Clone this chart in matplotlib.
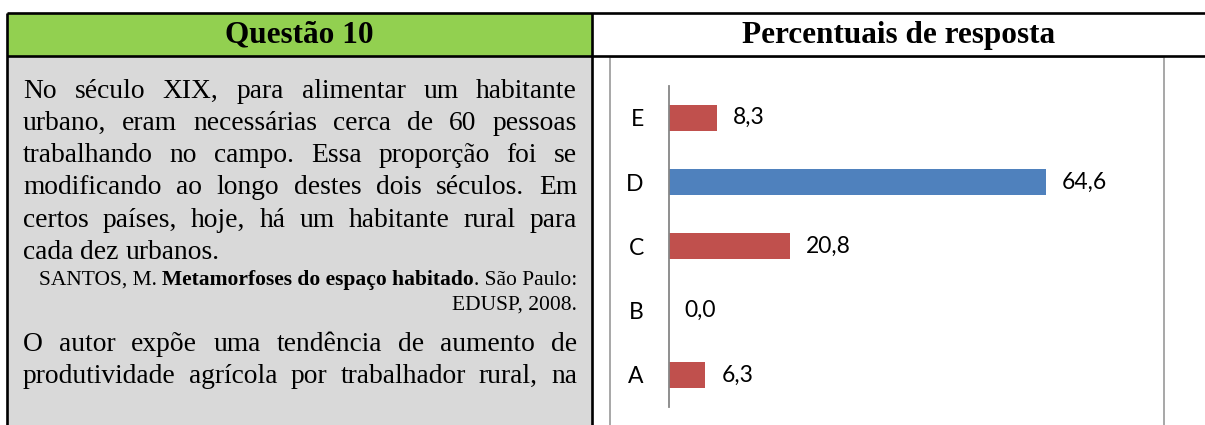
import matplotlib
matplotlib.use("Agg")
import matplotlib.pyplot as plt
from matplotlib.patches import Rectangle

# === Data ===
alternativas = ["A", "B", "C", "D", "E"]
percentuais = [6.3, 0.0, 20.8, 64.6, 8.3]
gabarito = "D"

titulo_questao = "Questão 10"
titulo_grafico = "Percentuais de resposta"

paragrafo1 = [
    "No século XIX, para alimentar um habitante",
    "urbano, eram necessárias cerca de 60 pessoas",
    "trabalhando no campo. Essa proporção foi se",
    "modificando ao longo destes dois séculos. Em",
    "certos países, hoje, há um habitante rural para",
    "cada dez urbanos.",
]
fonte_autor = "SANTOS, M."
fonte_titulo = "Metamorfoses do espaço habitado"
fonte_resto = ". São Paulo:"
fonte_linha2 = "EDUSP, 2008."
paragrafo2 = [
    "O autor expõe uma tendência de aumento de",
    "produtividade agrícola por trabalhador rural, na",
]

# === Figure setup (pixel coordinates via an overlay axes) ===
W, H = 1205, 425
fig = plt.figure(figsize=(W / 100, H / 100), dpi=100)
fig.patch.set_facecolor("white")
renderer = fig.canvas.get_renderer()

ax0 = fig.add_axes([0, 0, 1, 1])
ax0.set_xlim(0, W)
ax0.set_ylim(H, 0)
ax0.axis("off")

serif = "Liberation Serif"
body_size = 19.8
cite_size = 15.5
label_size = 16.5

x_left, x_sep = 6.5, 592
y_top, y_head = 13, 55.5

# cells
ax0.add_patch(Rectangle((x_left, y_head), x_sep - x_left, H, color="#D9D9D9", lw=0))
ax0.add_patch(Rectangle((x_left, y_top), x_sep - x_left, y_head - y_top, color="#92D050", lw=0))
ax0.add_patch(Rectangle((610, 56.7), 1164 - 610, 400, facecolor="white",
                        edgecolor="#A0A0A0", lw=1.3))

# table borders
lw_border = 1.9
ax0.plot([x_left, W], [y_top, y_top], color="black", lw=lw_border, solid_capstyle="butt")
ax0.plot([x_left, W], [y_head, y_head], color="black", lw=lw_border, solid_capstyle="butt")
ax0.plot([x_left, x_left], [y_top, H], color="black", lw=lw_border, solid_capstyle="butt")
ax0.plot([x_sep, x_sep], [y_top, H], color="black", lw=lw_border, solid_capstyle="butt")

# headers
ax0.text((x_left + x_sep) / 2, 42.5, titulo_questao, ha="center", va="baseline",
         fontsize=22.5, fontweight="bold", family=serif)
ax0.text((x_sep + W) / 2, 42.5, titulo_grafico, ha="center", va="baseline",
         fontsize=22.5, fontweight="bold", family=serif)


def text_width(s, size, weight="normal"):
    t = ax0.text(0, 0, s, fontsize=size, fontweight=weight, family=serif)
    w = t.get_window_extent(renderer).width
    t.remove()
    return w


def space_width(size, weight="normal"):
    return text_width("n n", size, weight) - text_width("nn", size, weight)


def justify(line, y, x0, x1, size, last=False):
    words = line.split()
    widths = [text_width(w, size) for w in words]
    if last:
        gap = space_width(size)
    else:
        gap = (x1 - x0 - sum(widths)) / (len(words) - 1)
    x = x0
    for w, wd in zip(words, widths):
        ax0.text(x, y, w, fontsize=size, family=serif, va="baseline")
        x += wd + gap


tx0, tx1 = 23, 577
base1, step = 97.5, 32.3
for i, line in enumerate(paragrafo1):
    justify(line, base1 + i * step, tx0, tx1, body_size, last=(i == len(paragrafo1) - 1))

# citation, right aligned, with bold title
w_a = text_width(fonte_autor, cite_size)
w_t = text_width(fonte_titulo, cite_size, "bold")
w_r = text_width(fonte_resto, cite_size)
sp = space_width(cite_size)
x = tx1 - (w_a + sp + w_t + w_r)
ax0.text(x, 285, fonte_autor, fontsize=cite_size, family=serif, va="baseline")
x += w_a + sp
ax0.text(x, 285, fonte_titulo, fontsize=cite_size, family=serif, fontweight="bold", va="baseline")
x += w_t
ax0.text(x, 285, fonte_resto, fontsize=cite_size, family=serif, va="baseline")
ax0.text(tx1, 310, fonte_linha2, fontsize=cite_size, family=serif, va="baseline", ha="right")

for i, line in enumerate(paragrafo2):
    justify(line, 351 + i * step, tx0, tx1, body_size)

# === Bar chart ===
px_per_unit = 5.836
axis_x, axis_top, axis_bot = 668.7, 85.7, 407
ax_w = 480
ax = fig.add_axes([axis_x / W, (H - axis_bot) / H, ax_w / W, (axis_bot - axis_top) / H])
ax.set_facecolor("none")

cores = ["#4F81BD" if a == gabarito else "#C0504D" for a in alternativas]
pos = range(len(alternativas))
ax.barh(pos, percentuais, height=0.4, color=cores)
ax.set_ylim(-0.5, len(alternativas) - 0.5)
ax.set_xlim(0, ax_w / px_per_unit)

for i, v in enumerate(percentuais):
    ax.annotate(f"{v:.1f}".replace(".", ","), (v, i), xytext=(11.5, 0),
                textcoords="offset points", va="center", ha="left",
                fontsize=label_size, family="Lato", color="black")

for s in ["top", "right", "bottom"]:
    ax.spines[s].set_visible(False)
ax.spines["left"].set_color("#868686")
ax.spines["left"].set_linewidth(1.3)
ax.set_xticks([])
ax.set_yticks(list(pos), alternativas)
ax.tick_params(axis="y", length=0, pad=18, labelsize=label_size)
for lab in ax.get_yticklabels():
    lab.set_family("Lato")

fig.savefig("out.png", dpi=100)
